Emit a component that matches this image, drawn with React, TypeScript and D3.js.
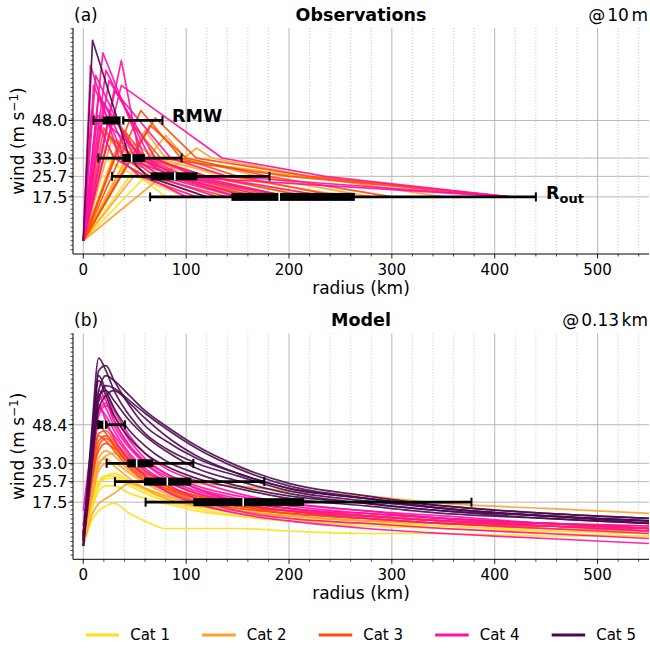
import * as d3 from "d3";

// categories
const CAT_LABELS = ["Cat 1", "Cat 2", "Cat 3", "Cat 4", "Cat 5"];
const CAT_COLORS = ["#fde01a", "#ffa02a", "#ff4a0a", "#ff10a0", "#4b0a4f"];

// axes
const X_TICKS = [0, 100, 200, 300, 400, 500];
const OBS_Y_TICKS = [17.5, 25.7, 33.0, 48.0];
const MODEL_Y_TICKS = [17.5, 25.7, 33.0, 48.4];

// observations: one entry per storm (category, RMW, Vmax, radii of 33 / 25.7 / 17.5 m/s)
const OBS_CAT = [5, 4, 4, 4, 4, 4, 4, 4, 4, 4, 4, 4, 4, 4, 3, 3, 3, 3, 3, 3, 3, 3, 2, 2, 2, 2, 2, 2, 2, 1, 1, 1, 1, 1, 1];
const OBS_RMW = [9, 19, 37, 7, 12, 25, 10, 15, 30, 20, 8, 22, 14, 37, 56, 45, 30, 65, 20, 40, 70, 25, 60, 35, 110, 80, 15, 50, 28, 20, 30, 45, 12, 65, 80];
const OBS_VMAX = [80, 75, 62, 70, 66, 64, 62, 58, 60, 55, 52, 68, 50, 72, 52, 48, 50, 46, 45, 44, 49, 42, 44, 40, 37, 42, 46, 39, 41, 38, 35, 36, 34, 37, 34];
const OBS_R33 = [45, 60, 135, 35, 50, 70, 40, 55, 85, 45, 30, 65, 60, 55, 95, 75, 55, 100, 40, 60, 110, 50, 80, 60, 125, 100, 40, 70, 45, 30, 35, 50, 20, 70, 85];
const OBS_R26 = [62, 90, 235, 55, 75, 110, 90, 95, 140, 70, 60, 120, 100, 85, 150, 200, 85, 180, 65, 120, 220, 100, 210, 110, 220, 170, 80, 140, 90, 60, 55, 90, 50, 120, 130];
const OBS_R17 = [120, 160, 415, 110, 150, 200, 415, 180, 415, 130, 100, 240, 200, 150, 250, 415, 170, 300, 140, 220, 415, 190, 415, 200, 350, 280, 160, 260, 170, 120, 80, 180, 100, 220, 230];

// model: wind (m/s) at fixed radii (km) per storm
const MODEL_RADII = [0, 8, 15, 22, 30, 45, 60, 80, 110, 150, 200, 275, 350, 450, 550];
const MODEL_CAT = [1, 1, 1, 1, 1, 2, 2, 2, 2, 2, 3, 3, 3, 3, 3, 3, 4, 4, 4, 4, 4, 4, 4, 4, 5, 5, 5, 5, 5, 5, 5, 5];
const MODEL_WIND = [
  [2, 18, 26, 28, 28, 25, 22, 19, 16, 13, 11, 9, 7, 6, 5],
  [4, 15, 24, 27, 27, 24, 21, 18, 15, 12, 10, 8, 7, 5, 4],
  [0, 10, 14, 16, 17, 13, 10, 7, 7, 7, 6, 5, 5, 4, 4],
  [3, 14, 22, 24, 24, 21, 19, 17, 14, 12, 10, 9, 8, 6, 5],
  [1, 16, 25, 28, 29, 26, 23, 20, 17, 14, 12, 10, 8, 7, 6],
  [3, 20, 32, 36, 37, 33, 29, 27, 25, 24, 22, 20, 17, 15, 13],
  [5, 25, 35, 38, 36, 30, 26, 23, 20, 17, 14, 12, 10, 9, 7],
  [2, 18, 30, 33, 33, 29, 25, 21, 18, 15, 13, 11, 9, 8, 6],
  [6, 22, 33, 35, 32, 27, 23, 19, 16, 14, 12, 10, 9, 7, 6],
  [0, 12, 17, 19, 21, 25, 23, 20, 17, 14, 12, 10, 9, 7, 6],
  [5, 30, 45, 46, 42, 35, 30, 26, 21, 18, 15, 12, 10, 9, 7],
  [2, 28, 42, 44, 41, 34, 29, 24, 20, 16, 14, 12, 10, 8, 7],
  [8, 32, 48, 45, 40, 32, 27, 23, 19, 16, 14, 12, 10, 9, 8],
  [0, 25, 40, 43, 40, 33, 28, 24, 20, 17, 14, 12, 10, 8, 7],
  [4, 30, 44, 42, 38, 31, 26, 22, 18, 15, 13, 11, 9, 8, 6],
  [3, 26, 38, 41, 39, 33, 28, 23, 19, 16, 13, 11, 9, 8, 7],
  [5, 40, 62, 58, 50, 40, 34, 29, 24, 20, 17, 14, 12, 9, 7],
  [0, 35, 58, 60, 54, 44, 37, 31, 26, 21, 17, 14, 11, 9, 7],
  [8, 38, 55, 52, 46, 37, 31, 26, 21, 17, 14, 11, 9, 7, 5],
  [2, 30, 52, 56, 52, 42, 35, 29, 23, 18, 15, 12, 10, 8, 6],
  [14, 40, 56, 50, 43, 34, 28, 22, 17, 13, 10, 7, 5, 3, 1],
  [4, 36, 60, 55, 48, 39, 33, 28, 23, 19, 16, 13, 11, 9, 8],
  [6, 34, 50, 48, 44, 36, 30, 25, 19, 14, 11, 9, 7, 5, 3],
  [3, 32, 54, 57, 50, 40, 33, 27, 22, 18, 15, 13, 11, 9, 7],
  [2, 45, 75, 70, 62, 52, 45, 39, 33, 28, 22, 18, 15, 12, 10],
  [0, 40, 70, 72, 66, 56, 48, 42, 35, 29, 23, 19, 15, 12, 10],
  [5, 35, 62, 68, 66, 60, 54, 48, 40, 32, 25, 20, 16, 13, 11],
  [3, 42, 68, 62, 55, 46, 40, 34, 29, 24, 20, 17, 14, 11, 9],
  [0, 30, 58, 64, 63, 58, 53, 47, 39, 31, 24, 19, 15, 12, 10],
  [4, 38, 66, 60, 52, 43, 37, 32, 27, 23, 19, 16, 13, 11, 9],
  [2, 36, 60, 62, 58, 50, 44, 38, 31, 26, 21, 17, 14, 12, 9],
  [0, 32, 55, 60, 62, 57, 51, 44, 36, 29, 23, 19, 16, 13, 11],
];

// radius statistics (min, q1, median, q3, max) at each wind level
const OBS_BOX_LEVELS = [48.0, 33.0, 25.7, 17.5];
const OBS_BOX = [
  [10, 19, 37, 40, 77],
  [14.6, 38, 47, 60, 95.6],
  [28, 65.5, 89, 111, 181],
  [65, 144, 190.5, 264, 440],
];
const MODEL_BOX_LEVELS = [48.4, 33.0, 25.7, 17.5];
const MODEL_BOX = [
  [14.5, 15, 20.3, 23.5, 40.5],
  [22.7, 42.8, 51.9, 68, 107],
  [30.8, 59, 81.7, 105, 176],
  [60.6, 107, 155.5, 214.5, 377.4],
];

const FONT = "DejaVu Sans, sans-serif";
const PLOT_H = 226;
const x = d3.scaleLinear().domain([-10, 550]).range([73, 649]);

function obsPoints(i: number): [number, number][] {
  const pts: [number, number][] = [[0, 0], [OBS_RMW[i], OBS_VMAX[i]]];
  const levels: [number, number][] = [[OBS_R33[i], 33], [OBS_R26[i], 25.7], [OBS_R17[i], 17.5]];
  levels.forEach(([r, v]) => {
    if (r > OBS_RMW[i] && v < OBS_VMAX[i]) pts.push([r, v]);
  });
  return pts;
}

interface PanelProps {
  top: number;
  tag: string;
  title: string;
  height: string[];
  yTicks: number[];
  boxLevels: number[];
  boxes: number[][];
  model: boolean;
}

const Panel = ({ top, tag, title, height, yTicks, boxLevels, boxes, model }: PanelProps) => {
  const bottom = top + PLOT_H;
  const y = d3.scaleLinear().domain([-5.3, 84.9]).range([bottom, top]);
  const line = d3
    .line<[number, number]>()
    .x((d) => x(d[0]))
    .y((d) => y(d[1]));
  const smooth = d3
    .line<[number, number]>()
    .x((d) => x(d[0]))
    .y((d) => y(d[1]))
    .curve(d3.curveMonotoneX);
  const minorX = d3.range(20, 550, 20).filter((v) => v % 100 !== 0);
  const minorY = d3.range(-3.6, 85, 1.8);
  const clipId = `clip-${tag}`;

  const order = d3.range(model ? MODEL_CAT.length : OBS_CAT.length).sort((a, b) =>
    model ? MODEL_CAT[a] - MODEL_CAT[b] : OBS_CAT[a] - OBS_CAT[b]
  );

  return (
    <g fontFamily={FONT}>
      <defs>
        <clipPath id={clipId}>
          <rect x={x(-10)} y={top} width={x(550) - x(-10)} height={PLOT_H} />
        </clipPath>
      </defs>
      {/* grid */}
      {minorX.map((v) => (
        <line key={`mx${v}`} x1={x(v)} x2={x(v)} y1={top} y2={bottom} stroke="#b8b8b8" strokeWidth={0.8} strokeDasharray="1,2" />
      ))}
      {X_TICKS.map((v) => (
        <line key={`gx${v}`} x1={x(v)} x2={x(v)} y1={top} y2={bottom} stroke="#b0b0b0" strokeWidth={0.9} />
      ))}
      {yTicks.map((v) => (
        <line key={`gy${v}`} x1={x(-10)} x2={x(550)} y1={y(v)} y2={y(v)} stroke="#b0b0b0" strokeWidth={0.9} />
      ))}

      {/* profiles */}
      <g clipPath={`url(#${clipId})`} fill="none" strokeWidth={1.7} strokeOpacity={0.9} strokeLinejoin="round">
        {order.map((i) =>
          model ? (
            <path
              key={i}
              d={smooth(MODEL_RADII.map((r, k) => [r, MODEL_WIND[i][k]] as [number, number])) ?? ""}
              stroke={CAT_COLORS[MODEL_CAT[i] - 1]}
            />
          ) : (
            <path key={i} d={line(obsPoints(i)) ?? ""} stroke={CAT_COLORS[OBS_CAT[i] - 1]} />
          )
        )}
      </g>

      {/* radius statistics */}
      {boxLevels.map((lv, k) => {
        const [mn, q1, md, q3, mx] = boxes[k];
        const cy = y(lv);
        return (
          <g key={`b${k}`}>
            <line x1={x(mn)} x2={x(mx)} y1={cy} y2={cy} stroke="#000" strokeWidth={2.8} />
            <line x1={x(mn)} x2={x(mn)} y1={cy - 4.5} y2={cy + 4.5} stroke="#000" strokeWidth={2} />
            <line x1={x(mx)} x2={x(mx)} y1={cy - 4.5} y2={cy + 4.5} stroke="#000" strokeWidth={2} />
            <rect x={x(q1)} y={cy - 4} width={x(q3) - x(q1)} height={8} fill="#000" />
            <line x1={x(md)} x2={x(md)} y1={cy - 4} y2={cy + 4} stroke="#fff" strokeWidth={1.6} />
          </g>
        );
      })}

      {/* axes */}
      <line x1={x(-10)} x2={x(550)} y1={bottom} y2={bottom} stroke="#000" strokeWidth={1} />
      <line x1={x(-10)} x2={x(-10)} y1={top} y2={bottom} stroke="#000" strokeWidth={1} />
      {minorX.map((v) => (
        <line key={`tx${v}`} x1={x(v)} x2={x(v)} y1={bottom} y2={bottom + 2.5} stroke="#000" strokeWidth={0.7} />
      ))}
      {X_TICKS.map((v) => (
        <g key={`lx${v}`}>
          <line x1={x(v)} x2={x(v)} y1={bottom} y2={bottom + 4.5} stroke="#000" strokeWidth={0.9} />
          <text x={x(v)} y={bottom + 21} textAnchor="middle" fontSize={15}>
            {v}
          </text>
        </g>
      ))}
      {minorY.map((v) => (
        <line key={`ty${v}`} x1={x(-10)} x2={x(-10) - 2.5} y1={y(v)} y2={y(v)} stroke="#000" strokeWidth={0.7} />
      ))}
      {yTicks.map((v) => (
        <g key={`ly${v}`}>
          <line x1={x(-10)} x2={x(-10) - 4.5} y1={y(v)} y2={y(v)} stroke="#000" strokeWidth={0.9} />
          <text x={x(-10) - 5.5} y={y(v)} dy="0.36em" textAnchor="end" fontSize={16}>
            {v.toFixed(1)}
          </text>
        </g>
      ))}
      <text x={361} y={bottom + 40} textAnchor="middle" fontSize={17}>
        radius (km)
      </text>
      <text transform={`translate(18,${top + PLOT_H / 2}) rotate(-90)`} textAnchor="middle" dy="0.36em" fontSize={17}>
        wind (m s
        <tspan dy={-6.5} fontSize={12}>
          −1
        </tspan>
        <tspan dy={6.5}>)</tspan>
      </text>

      {/* titles */}
      <text x={74} y={top - 7} fontSize={17}>
        {tag}
      </text>
      <text x={361} y={top - 7} textAnchor="middle" fontSize={17.5} fontWeight="bold">
        {title}
      </text>
      <text x={648} y={top - 7} textAnchor="end" fontSize={17}>
        {height[0]}
        <tspan dx={2}>{height[1]}</tspan>
        <tspan dx={2.5}>{height[2]}</tspan>
      </text>
    </g>
  );
};

const App = () => {
  const legendX = CAT_LABELS.map((_, i) => 85.7 + i * 116.5);
  return (
    <div style={{ position: "absolute", left: 0, top: 0 }}>
      <svg width={650} height={648} style={{ display: "block", background: "#fff" }}>
        <Panel
          top={28}
          tag="(a)"
          title="Observations"
          height={["@", "10", "m"]}
          yTicks={OBS_Y_TICKS}
          boxLevels={OBS_BOX_LEVELS}
          boxes={OBS_BOX}
          model={false}
        />
        <Panel
          top={333.3}
          tag="(b)"
          title="Model"
          height={["@", "0.13", "km"]}
          yTicks={MODEL_Y_TICKS}
          boxLevels={MODEL_BOX_LEVELS}
          boxes={MODEL_BOX}
          model={true}
        />
        <g fontFamily={FONT}>
          <text x={172} y={121.5} fontSize={17.5} fontWeight="bold">
            RMW
          </text>
          <text x={546} y={198.5} fontSize={17.5} fontWeight="bold">
            R
            <tspan dy={4} fontSize={13}>
              out
            </tspan>
          </text>
        </g>
        <g fontFamily={FONT} fontSize={15}>
          {CAT_LABELS.map((c, i) => (
            <g key={c}>
              <line x1={legendX[i]} x2={legendX[i] + 33.5} y1={635} y2={635} stroke={CAT_COLORS[i]} strokeWidth={3} />
              <text x={legendX[i] + 44.5} y={635} dy="0.36em">
                {c}
              </text>
            </g>
          ))}
        </g>
      </svg>
    </div>
  );
};

export default App;
